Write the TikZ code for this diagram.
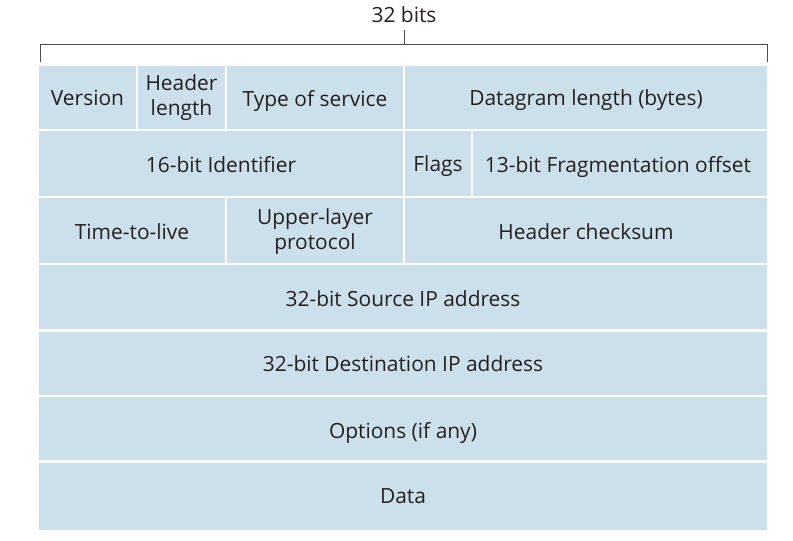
\documentclass[tikz,border=0pt]{standalone}
\usepackage{fontspec}
\setmainfont{Open Sans}
\definecolor{cellblue}{HTML}{CCE0EC}
\definecolor{txtgray}{HTML}{231F20}
\tikzset{cell/.style={fill=cellblue},
  lbl/.style={text=txtgray,font=\fontsize{21}{25}\selectfont,align=center,inner sep=0pt},
  oneline/.style={lbl,text depth=0pt}}
\begin{document}
\begin{tikzpicture}[x=1bp,y=-1bp]
\useasboundingbox (0,0) rectangle (793,541);
% bracket on top
\draw[line width=.9pt,black!70] (40,62)--(40,44)--(767,44)--(767,62);
\draw[line width=.9pt,black!70] (404,44)--(404,30);
\node[oneline] (bits) at (404,15) {32 bits};
% row 1
\fill[cell] (39,66) rectangle (136,129);
\fill[cell] (138,66) rectangle (225,129);
\fill[cell] (227,66) rectangle (403,129);
\fill[cell] (405,66) rectangle (767,129);
\node[oneline] (ver) at (87.5,98) {Version};
\node[lbl] (hlen) at (181.5,98) {Header\\length};
\node[oneline] (tos) at (315,98) {Type of service};
\node[oneline] (dlen) at (586,98) {Datagram length (bytes)};
% row 2
\fill[cell] (39,131) rectangle (403,196);
\fill[cell] (405,131) rectangle (471,196);
\fill[cell] (473,131) rectangle (767,196);
\node[oneline] (ident) at (221,164) {16-bit Identifier};
\node[oneline] (flags) at (438,164) {Flags};
\node[oneline] (frag) at (618,164) {13-bit Fragmentation offset};
% row 3
\fill[cell] (39,198) rectangle (225,263);
\fill[cell] (227,198) rectangle (403,263);
\fill[cell] (405,198) rectangle (767,263);
\node[oneline] (ttl) at (132,232) {Time-to-live};
\node[lbl] (proto) at (315,232) {Upper-layer\\protocol};
\node[oneline] (csum) at (586,232) {Header checksum};
% rows 4 to 7
\fill[cell] (39,265) rectangle (767,329);
\fill[cell] (39,332) rectangle (767,395);
\fill[cell] (39,397) rectangle (767,460);
\fill[cell] (39,463) rectangle (767,530);
\node[oneline] (src) at (403,299) {32-bit Source IP address};
\node[oneline] (dst) at (403,364) {32-bit Destination IP address};
\node[oneline] (opt) at (403,430) {Options (if any)};
\node[oneline] (data) at (403,496) {Data};
\end{tikzpicture}
\end{document}
